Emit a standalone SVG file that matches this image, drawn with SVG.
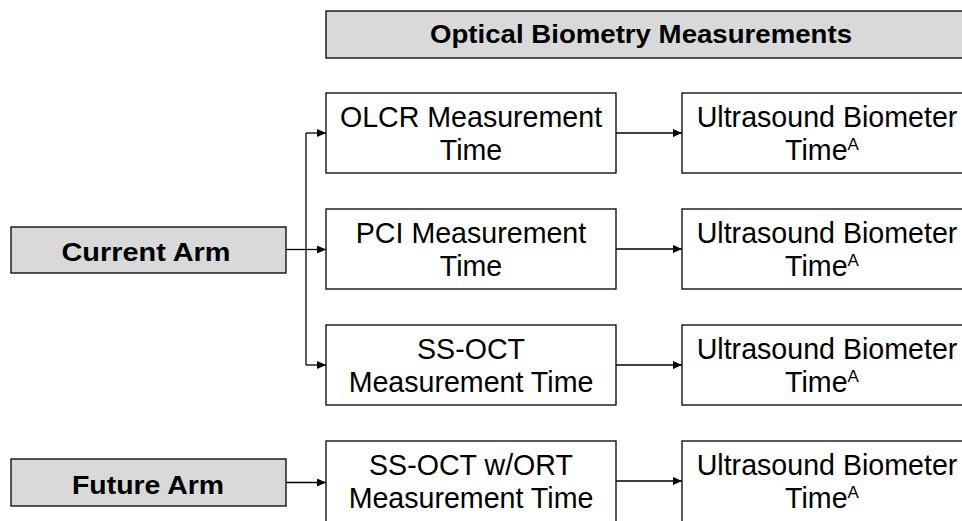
<svg xmlns="http://www.w3.org/2000/svg" width="962" height="521" viewBox="0 0 962 521">
<defs>
<marker id="arr" markerWidth="9" markerHeight="8" refX="9" refY="4" orient="auto" markerUnits="userSpaceOnUse"><path d="M0,0 L9,4 L0,8 Z" fill="#000"/></marker>
</defs>
<style>
.box{fill:#fff;stroke:#000;stroke-width:1.3}
.gbox{fill:#d9d9d9;stroke:#000;stroke-width:1.3}
.t{font-family:"Liberation Sans",Arial,sans-serif;font-size:28.6px;fill:#000;text-anchor:middle}
.b{font-family:"Liberation Sans",Arial,sans-serif;font-size:26px;font-weight:bold;fill:#000;text-anchor:middle}
.sup{font-size:17px}
.c{fill:none;stroke:#000;stroke-width:1.3}
</style>
<rect width="962" height="521" fill="#fff"/>
<g id="header">
<rect class="gbox" x="326" y="11" width="650" height="47"/>
<text class="b" x="641" y="43" textLength="422" lengthAdjust="spacingAndGlyphs">Optical Biometry Measurements</text>
</g>
<g id="current-arm">
<rect class="gbox" x="11" y="227" width="275" height="46"/>
<text class="b" x="146" y="261" textLength="169" lengthAdjust="spacingAndGlyphs">Current Arm</text>
</g>
<g id="future-arm">
<rect class="gbox" x="11" y="459" width="275" height="47"/>
<text class="b" x="148" y="494" textLength="152" lengthAdjust="spacingAndGlyphs">Future Arm</text>
</g>
<g id="olcr">
<rect class="box" x="326" y="93" width="290" height="80"/>
<text class="t" x="471" y="127">OLCR Measurement</text>
<text class="t" x="471" y="160">Time</text>
</g>
<g id="pci">
<rect class="box" x="326" y="209" width="290" height="80"/>
<text class="t" x="471" y="243">PCI Measurement</text>
<text class="t" x="471" y="276">Time</text>
</g>
<g id="ssoct">
<rect class="box" x="326" y="325" width="290" height="80"/>
<text class="t" x="471" y="359">SS-OCT</text>
<text class="t" x="471" y="392">Measurement Time</text>
</g>
<g id="ssoct-ort">
<rect class="box" x="326" y="441" width="290" height="90"/>
<text class="t" x="471" y="475">SS-OCT w/ORT</text>
<text class="t" x="471" y="508">Measurement Time</text>
</g>
<g id="us1">
<rect class="box" x="682" y="93" width="300" height="80"/>
<text class="t" x="827" y="127">Ultrasound Biometer</text>
<text class="t" x="822" y="160">Time<tspan class="sup" dy="-10">A</tspan></text>
</g>
<g id="us2">
<rect class="box" x="682" y="209" width="300" height="80"/>
<text class="t" x="827" y="243">Ultrasound Biometer</text>
<text class="t" x="822" y="276">Time<tspan class="sup" dy="-10">A</tspan></text>
</g>
<g id="us3">
<rect class="box" x="682" y="325" width="300" height="80"/>
<text class="t" x="827" y="359">Ultrasound Biometer</text>
<text class="t" x="822" y="392">Time<tspan class="sup" dy="-10">A</tspan></text>
</g>
<g id="us4">
<rect class="box" x="682" y="441" width="300" height="90"/>
<text class="t" x="827" y="475">Ultrasound Biometer</text>
<text class="t" x="822" y="508">Time<tspan class="sup" dy="-10">A</tspan></text>
</g>
<g id="connectors">
<path class="c" d="M286,249.5 H306"/>
<path class="c" d="M306,133 V365"/>
<path class="c" d="M306,133 H326" marker-end="url(#arr)"/>
<path class="c" d="M306,249.5 H326" marker-end="url(#arr)"/>
<path class="c" d="M306,365 H326" marker-end="url(#arr)"/>
<path class="c" d="M286,482.5 H326" marker-end="url(#arr)"/>
<path class="c" d="M616,133 H682" marker-end="url(#arr)"/>
<path class="c" d="M616,249 H682" marker-end="url(#arr)"/>
<path class="c" d="M616,365 H682" marker-end="url(#arr)"/>
<path class="c" d="M616,481 H682" marker-end="url(#arr)"/>
</g>
</svg>
